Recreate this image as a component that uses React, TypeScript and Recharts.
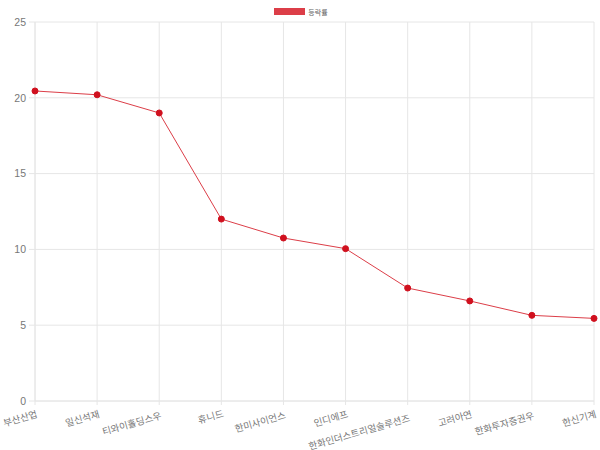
import React from 'react';
import { LineChart, Line, XAxis, YAxis, CartesianGrid, Legend } from 'recharts';

const names = [
  '부산산업',
  '일신석재',
  '티와이홀딩스우',
  '휴니드',
  '한미사이언스',
  '인디에프',
  '한화인더스트리얼솔루션즈',
  '고려아연',
  '한화투자증권우',
  '한신기계',
];
const changeRates = [20.45, 20.2, 19.0, 12.0, 10.75, 10.05, 7.45, 6.6, 5.65, 5.45];
const yTicks = [0, 5, 10, 15, 20, 25];

const data = names.map((name, i) => ({ name, rate: changeRates[i] }));

const font = "'Liberation Sans', 'Noto Sans CJK KR', sans-serif";
const gridColor = '#e6e6e6';

function XTick(props: any) {
  const { x, y, payload } = props;
  const len = String(payload.value).length;
  // longer labels sit a little lower, as in the original
  const ax = x + 3;
  const ay = y + 8 + len * 0.5;
  return (
    <text
      x={ax}
      y={ay}
      textAnchor="end"
      fontSize={9.5}
      fill="#777"
      fontFamily={font}
      transform={`rotate(-16, ${ax}, ${ay})`}
    >
      {payload.value}
    </text>
  );
}

function LegendBox() {
  return (
    <div style={{ height: 16, display: 'flex', justifyContent: 'center', alignItems: 'center', fontFamily: font, paddingLeft: 8 }}>
      <span style={{ display: 'inline-block', width: 31, height: 7, background: '#dc3e48', marginRight: 3, marginTop: -5 }} />
      <span style={{ fontSize: 7, color: '#666', marginTop: -5 }}>등락률</span>
    </div>
  );
}

export default function App() {
  return (
    <div style={{ position: 'absolute', left: 0, top: 0 }}>
      <LineChart width={600} height={450} data={data} margin={{ top: 6, right: 6, bottom: 0, left: 0 }}>
        <Legend verticalAlign="top" content={<LegendBox />} />
        <CartesianGrid stroke={gridColor} />
        <XAxis
          dataKey="name"
          interval={0}
          height={49}
          stroke={gridColor}
          tickSize={4}
          tick={<XTick />}
        />
        <YAxis
          domain={[0, 25]}
          ticks={yTicks}
          width={35}
          stroke={gridColor}
          tickSize={6}
          tickMargin={3}
          tick={{ fill: '#777', fontSize: 10.5, fontFamily: font }}
        />
        <Line
          type="linear"
          dataKey="rate"
          stroke="#dc3e48"
          strokeWidth={1}
          dot={{ r: 3, fill: '#d0101e', stroke: '#d0101e', strokeWidth: 1 }}
          isAnimationActive={false}
        />
      </LineChart>
    </div>
  );
}
